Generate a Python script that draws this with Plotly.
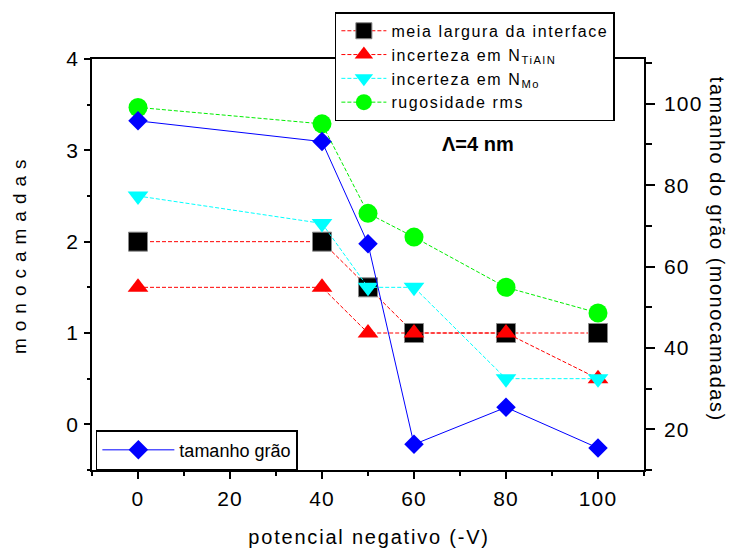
import plotly.graph_objects as go

# data
potencial = [0, 40, 50, 60, 80, 100]
meia_largura = [2.0, 2.0, 1.5, 1.0, 1.0, 1.0]
incerteza_tialn = [1.5, 1.5, 1.0, 1.0, 1.0, 0.5]
incerteza_mo = [2.5, 2.2, 1.5, 1.5, 0.5, 0.5]
rugosidade = [3.47, 3.29, 2.31, 2.05, 1.5, 1.22]
tamanho_grao = [95.8, 90.7, 65.6, 16.3, 25.4, 15.4]

FONT = "Liberation Sans, Arial, sans-serif"

fig = go.Figure()

fig.add_trace(go.Scatter(
    x=potencial, y=meia_largura, name="meia largura da interface",
    mode="lines+markers",
    line=dict(color="red", width=1, dash="4px,2px"),
    marker=dict(symbol="square", size=19, color="black",
                line=dict(color="#888888", width=1)),
    legend="legend"))
fig.add_trace(go.Scatter(
    x=potencial, y=incerteza_tialn, name="incerteza em N<sub>TiAlN</sub>",
    mode="lines+markers",
    line=dict(color="red", width=1, dash="4px,2px"),
    marker=dict(symbol="triangle-up", size=18, color="red"),
    legend="legend"))
fig.add_trace(go.Scatter(
    x=potencial, y=incerteza_mo, name="incerteza em N<sub>Mo</sub>",
    mode="lines+markers",
    line=dict(color="cyan", width=1, dash="4px,2px"),
    marker=dict(symbol="triangle-down", size=18, color="cyan"),
    legend="legend"))
fig.add_trace(go.Scatter(
    x=potencial, y=rugosidade, name="rugosidade rms",
    mode="lines+markers",
    line=dict(color="#00ee00", width=1, dash="4px,2px"),
    marker=dict(symbol="circle", size=19, color="#00ff00"),
    legend="legend"))
fig.add_trace(go.Scatter(
    x=potencial, y=tamanho_grao, name="tamanho grão",
    mode="lines+markers", yaxis="y2",
    line=dict(color="blue", width=1),
    marker=dict(symbol="diamond", size=15, color="blue"),
    legend="legend2"))

axis_common = dict(
    showgrid=False, zeroline=False, showline=True, linecolor="black",
    linewidth=1.5, ticks="outside", tickcolor="black", tickwidth=1.5,
    tickfont=dict(family=FONT, size=21, color="black"),
)

fig.update_layout(
    width=730, height=548,
    margin=dict(l=92, r=86, t=56, b=78),
    paper_bgcolor="white", plot_bgcolor="white",
    font=dict(family=FONT, size=17, color="black"),
    xaxis=dict(range=[-10, 110], dtick=20, tick0=0, ticklen=7,
               mirror=True, ticklabelstandoff=2,
               minor=dict(dtick=10, tick0=0, ticklen=4, ticks="outside",
                          tickcolor="black", tickwidth=1.5, showgrid=False),
               **axis_common),
    yaxis=dict(range=[-0.5, 4], dtick=1, tick0=0, ticklen=6,
               ticklabelstandoff=1,
               minor=dict(dtick=0.5, tick0=0, ticklen=3, ticks="outside",
                          tickcolor="black", tickwidth=1.5, showgrid=False),
               **axis_common),
    yaxis2=dict(range=[10, 111], dtick=20, tick0=0, ticklen=9,
                overlaying="y", side="right", anchor="x",
                ticklabelstandoff=5,
                minor=dict(dtick=10, tick0=0, ticklen=6, ticks="outside",
                           tickcolor="black", tickwidth=1.5, showgrid=False),
                **axis_common),
    legend=dict(x=0.44, y=1.1135, xanchor="left", yanchor="top",
                bgcolor="white", bordercolor="black", borderwidth=1.5,
                font=dict(family=FONT, size=16, color="black"),
                itemwidth=45, tracegroupgap=0),
    legend2=dict(x=0.007, y=0.097, xanchor="left", yanchor="top",
                 bgcolor="white", bordercolor="black", borderwidth=1.5,
                 font=dict(family=FONT, size=18, color="black"),
                 itemwidth=72),
    showlegend=True,
    annotations=[
        dict(text="<b>Λ=4 nm</b>", x=478, y=142),
        dict(text="monocamadas", x=20, y=252, textangle=-90),
        dict(text="tamanho do grão (monocamadas)", x=717, y=247, textangle=90),
        dict(text="potencial negativo (-V)", x=369, y=537),
    ],
)

ann_sizes = [20, 19, 20, 20]
# convert pixel positions of the texts into paper coordinates
L, R, T, B = 92, 730 - 86, 56, 548 - 78
for ann, fs in zip(fig.layout.annotations, ann_sizes):
    px, py = ann.x, ann.y
    ann.update(x=(px - L) / (R - L), y=(B - py) / (B - T),
               xref="paper", yref="paper", xanchor="center", yanchor="middle",
               showarrow=False, font=dict(family=FONT, size=fs, color="black"))

# the original figure uses widely spaced lettering
post = """
var gd = document.getElementById('{plot_id}');
var css = 'g.xtick text, g.ytick text, g.y2tick text {letter-spacing:1.2px;}' +
  ' text.legendtext {letter-spacing:1.6px;}' +
  ' g.annotation[data-index="1"] text {letter-spacing:7px;}' +
  ' g.annotation[data-index="2"] text {letter-spacing:1.5px;}' +
  ' g.annotation[data-index="3"] text {letter-spacing:1.8px;}';
var st = document.createElement('style');
st.textContent = css;
document.head.appendChild(st);
return Plotly.relayout(gd, {'legend.font.family': 'Liberation Sans, Arial'});
"""

fig.write_html("out.html", post_script=post)
